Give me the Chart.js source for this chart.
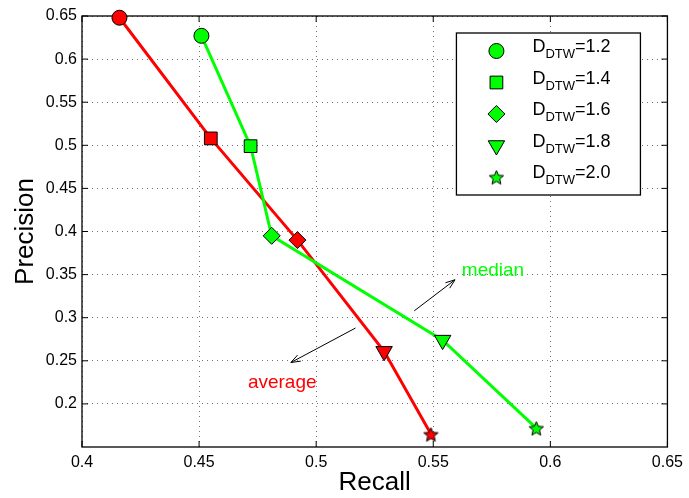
<!DOCTYPE html>
<html>
<head>
<meta charset="utf-8">
<script src="https://cdn.jsdelivr.net/npm/chart.js@4"></script>
<style>
  html, body { margin: 0; padding: 0; background: #fff; }
  #wrap { width: 689px; height: 498px; }
</style>
</head>
<body>
<div id="wrap"><canvas id="pr"></canvas></div>
<script>
// values
const thresholds = ['1.2', '1.4', '1.6', '1.8', '2.0'];
const avg_recall = [0.416, 0.455, 0.492, 0.529, 0.549];
const avg_precision = [0.648, 0.508, 0.390, 0.261, 0.165];
const med_recall = [0.451, 0.472, 0.481, 0.554, 0.594];
const med_precision = [0.627, 0.499, 0.395, 0.274, 0.172];
const x_ticks = [0.4, 0.45, 0.5, 0.55, 0.6, 0.65];
const y_ticks = [0.2, 0.25, 0.3, 0.35, 0.4, 0.45, 0.5, 0.55, 0.6, 0.65];

const RED = 'rgb(255,0,0)';
const GREEN = 'rgb(0,255,0)';
const FONT = "'Liberation Sans', Arial, sans-serif";

// filled five point star as an image, chart.js 'star' is only lines
function star_image(fill, r)
{
    const c = document.createElement('canvas');
    const s = Math.ceil(r * 2 + 4);
    c.width = s; c.height = s;
    const g = c.getContext('2d');
    g.beginPath();
    for (let i = 0; i < 10; i++) {
        const rr = i % 2 === 0 ? r : r * 0.45;
        const a = -Math.PI / 2 + i * Math.PI / 5;
        const px = s / 2 + rr * Math.cos(a);
        const py = s / 2 + rr * Math.sin(a) + 1;
        if (i === 0) g.moveTo(px, py); else g.lineTo(px, py);
    }
    g.closePath();
    g.fillStyle = fill;
    g.fill();
    g.lineWidth = 1;
    g.strokeStyle = '#000';
    g.stroke();
    return c;
}

const red_star = star_image(RED, 7.5);
const green_star = star_image(GREEN, 7.5);

const marker_styles = ['circle', 'rect', 'rectRot', 'triangle'];
const marker_radius = [7.5, 9, 8.5, 9.5, 8];
const marker_rotation = [0, 0, 0, 180, 0];

function pts(xs, ys) { return xs.map((x, i) => ({x: x, y: ys[i]})); }

// text notes + arrows, in data units
const notes = [
    {text: 'median', color: GREEN, x: 0.5755, y: 0.355, from: [0.5419, 0.308], to: [0.5593, 0.344]},
    {text: 'average', color: RED, x: 0.4855, y: 0.224, from: [0.5168, 0.288], to: [0.4892, 0.248]}
];

const frame_plugin = {
    id: 'frame',
    beforeDatasetsDraw(chart)
    {
        const {ctx, chartArea: a, scales} = chart;
        ctx.save();
        // box round the plot
        ctx.strokeStyle = '#000';
        ctx.lineWidth = 1.3;
        ctx.strokeRect(a.left, a.top, a.right - a.left, a.bottom - a.top);
        // inward ticks
        ctx.lineWidth = 1;
        x_ticks.forEach(v => {
            const px = scales.x.getPixelForValue(v);
            ctx.beginPath();
            ctx.moveTo(px, a.bottom); ctx.lineTo(px, a.bottom - 6);
            ctx.moveTo(px, a.top); ctx.lineTo(px, a.top + 6);
            ctx.stroke();
        });
        y_ticks.forEach(v => {
            const py = scales.y.getPixelForValue(v);
            ctx.beginPath();
            ctx.moveTo(a.left, py); ctx.lineTo(a.left + 6, py);
            ctx.moveTo(a.right, py); ctx.lineTo(a.right - 6, py);
            ctx.stroke();
        });
        ctx.restore();
    },
    afterDatasetsDraw(chart)
    {
        const {ctx, chartArea: a, scales} = chart;
        ctx.save();
        // notes
        notes.forEach(n => {
            const x0 = scales.x.getPixelForValue(n.from[0]);
            const y0 = scales.y.getPixelForValue(n.from[1]);
            const x1 = scales.x.getPixelForValue(n.to[0]);
            const y1 = scales.y.getPixelForValue(n.to[1]);
            ctx.strokeStyle = '#000';
            ctx.lineWidth = 1;
            ctx.beginPath(); ctx.moveTo(x0, y0); ctx.lineTo(x1, y1); ctx.stroke();
            const ang = Math.atan2(y1 - y0, x1 - x0);
            ctx.beginPath();
            ctx.moveTo(x1 - 10 * Math.cos(ang - 0.35), y1 - 10 * Math.sin(ang - 0.35));
            ctx.lineTo(x1, y1);
            ctx.lineTo(x1 - 10 * Math.cos(ang + 0.35), y1 - 10 * Math.sin(ang + 0.35));
            ctx.stroke();
            ctx.fillStyle = n.color;
            ctx.font = '19px ' + FONT;
            ctx.textAlign = 'center';
            ctx.textBaseline = 'middle';
            ctx.fillText(n.text, scales.x.getPixelForValue(n.x), scales.y.getPixelForValue(n.y));
        });

        // legend box with subscripts
        const lw = 184, lh = 162;
        const lx = a.right - 27 - lw, ly = a.top + 17;
        ctx.fillStyle = '#fff';
        ctx.fillRect(lx, ly, lw, lh);
        ctx.strokeStyle = '#000';
        ctx.lineWidth = 1.3;
        ctx.strokeRect(lx, ly, lw, lh);
        thresholds.forEach((t, i) => {
            const my = ly + 18 + i * 31.5;
            ctx.fillStyle = GREEN;
            ctx.strokeStyle = '#000';
            ctx.lineWidth = 1;
            Chart.helpers.drawPoint(ctx, {
                pointStyle: i === 4 ? green_star : marker_styles[i],
                radius: marker_radius[i],
                rotation: marker_rotation[i],
                borderWidth: 1
            }, lx + 40, my);
            ctx.fillStyle = '#000';
            ctx.textAlign = 'left';
            ctx.textBaseline = 'alphabetic';
            let tx = lx + 76;
            const base = my + 1;
            ctx.font = '18px ' + FONT;
            ctx.fillText('D', tx, base);
            tx += ctx.measureText('D').width;
            ctx.font = '13px ' + FONT;
            ctx.fillText('DTW', tx, base + 6);
            tx += ctx.measureText('DTW').width;
            ctx.font = '18px ' + FONT;
            ctx.fillText('=' + t, tx, base);
        });
        ctx.restore();
    }
};

const ctx_pr = document.getElementById('pr').getContext('2d');
const pr_chart = new Chart(ctx_pr,
    {
        type: 'scatter',
        data: {
            datasets: [
                {
                    label: 'median',
                    data: pts(med_recall, med_precision),
                    showLine: true,
                    clip: false,
                    borderColor: GREEN,
                    borderWidth: 3,
                    backgroundColor: GREEN,
                    pointBackgroundColor: GREEN,
                    pointBorderColor: '#000',
                    pointBorderWidth: 1,
                    pointStyle: marker_styles.concat([green_star]),
                    pointRadius: marker_radius,
                    pointRotation: marker_rotation
                },
                {
                    label: 'average',
                    data: pts(avg_recall, avg_precision),
                    showLine: true,
                    clip: false,
                    borderColor: RED,
                    borderWidth: 3,
                    backgroundColor: RED,
                    pointBackgroundColor: RED,
                    pointBorderColor: '#000',
                    pointBorderWidth: 1,
                    pointStyle: marker_styles.concat([red_star]),
                    pointRadius: marker_radius,
                    pointRotation: marker_rotation
                }
            ]
        },
        options: {
            responsive: true,
            maintainAspectRatio: false,
            animation: false,
            events: [],
            layout: { padding: { top: 16, right: 18, left: 10, bottom: 0 } },
            plugins: { legend: { display: false }, tooltip: { enabled: false } },
            scales: {
                x: {
                    type: 'linear',
                    min: 0.4, max: 0.65,
                    afterBuildTicks: s => { s.ticks = x_ticks.map(v => ({value: v})); },
                    afterFit: s => { s.height = 51; },
                    ticks: {
                        color: '#000',
                        padding: 6,
                        font: { family: FONT, size: 16 },
                        callback: v => String(Number(v.toFixed(2)))
                    },
                    grid: { color: 'rgba(0,0,0,0.55)', drawTicks: false },
                    border: { display: false, dash: [1, 4] },
                    title: { display: true, text: 'Recall', color: '#000', padding: 0, font: { family: FONT, size: 26 } }
                },
                y: {
                    type: 'linear',
                    min: 0.15, max: 0.65,
                    afterBuildTicks: s => { s.ticks = y_ticks.map(v => ({value: v})); },
                    afterFit: s => { s.width = 72; },
                    ticks: {
                        color: '#000',
                        padding: 5,
                        font: { family: FONT, size: 16 },
                        callback: v => String(Number(v.toFixed(2)))
                    },
                    grid: { color: 'rgba(0,0,0,0.55)', drawTicks: false },
                    border: { display: false, dash: [1, 4] },
                    title: { display: true, text: 'Precision', color: '#000', padding: 0, font: { family: FONT, size: 26 } }
                }
            }
        },
        plugins: [frame_plugin]
    });
</script>
</body>
</html>
